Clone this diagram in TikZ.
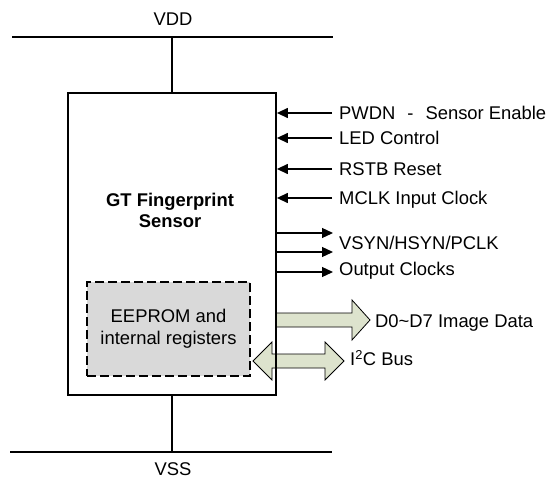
\documentclass[tikz,border=0pt]{standalone}
\usepackage{fontspec}
\setmainfont{Liberation Sans}
\usepackage{xcolor}
\usetikzlibrary{arrows.meta}
\definecolor{regfill}{HTML}{D9D9D9}
\definecolor{busfill}{HTML}{DDE3CD}

\begin{document}
\begin{tikzpicture}[x=1pt, y=-1pt,
    txt/.style={inner sep=0pt, text height=13.2pt, text depth=0pt,
                font=\fontsize{18.4}{22}\selectfont},
    lbl/.style={txt, anchor=west},
    rail/.style={line width=1.3pt},
    sig/.style={line width=1.3pt, -{Triangle[length=11pt,width=10pt]}},
    bus/.style={draw, line width=0.8pt, fill=busfill, line join=miter}]
  \useasboundingbox (0,0) rectangle (550,479);

  \draw[bus] (276,313) -- (352,313) -- (352,300) -- (370,320) -- (352,340)
             -- (352,327) -- (276,327) -- cycle;
  \draw[bus] (253,361) -- (272,342) -- (272,354) -- (325,354) -- (325,342)
             -- (344,361) -- (325,380) -- (325,368) -- (272,368) -- (272,380) -- cycle;

  \node[draw, line width=1.8pt, minimum width=208pt, minimum height=302pt,
        inner sep=0pt] (sensor) at (172,244) {};
  \node[font=\fontsize{18.4}{21}\selectfont\bfseries, align=center]
        (title) at (170,210.5) {GT Fingerprint\\Sensor};
  \node[draw, dash pattern=on 9pt off 4pt, line width=1.6pt, fill=regfill,
        minimum width=163pt, minimum height=94pt, align=center,
        font=\fontsize{18.4}{22}\selectfont] (eeprom) at (168.5,329)
        {EEPROM and\\internal registers};

  \node[txt] (vdd) at (173,19) {VDD};
  \coordinate (vddL) at (12,37);
  \coordinate (vddR) at (333,37);
  \draw[rail] (vddL) -- (vddR);
  \draw[rail] (sensor.north |- vddL) -- (sensor.north);

  \node[txt] (vss) at (173,469) {VSS};
  \coordinate (vssL) at (10,452);
  \coordinate (vssR) at (332,452);
  \draw[rail] (vssL) -- (vssR);
  \draw[rail] (sensor.south) -- (sensor.south |- vssL);

  \node[lbl] (pwdn) at (339,113) {PWDN\hspace{12pt}-\hspace{12pt}Sensor Enable};
  \node[lbl] (led) at (339,138) {LED Control};
  \node[lbl] (rstb) at (339,169) {RSTB Reset};
  \node[lbl] (mclk) at (339,198) {MCLK Input Clock};
  \foreach \s in {pwdn,led,rstb,mclk}
    \draw[sig] ([xshift=-7pt]\s.west) -- (\s.west -| sensor.east);

  \node[lbl] (vsyn) at (339,243) {VSYN/HSYN/PCLK};
  \node[lbl] (outclk) at (339,269) {Output Clocks};
  \coordinate (out1) at (333,233);
  \coordinate (out2) at (333,252);
  \coordinate (out3) at (333,272);
  \foreach \o in {out1,out2,out3}
    \draw[sig] (\o -| sensor.east) -- (\o);

  \node[lbl] (data) at (375,321) {D0\textasciitilde D7 Image Data};
  \node[lbl] (i2c) at (350,359) {I\textsuperscript{2}C Bus};
\end{tikzpicture}
\end{document}
